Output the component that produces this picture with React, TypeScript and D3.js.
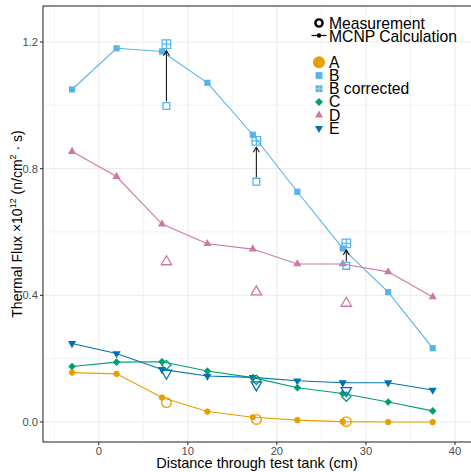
import React from "react";
import * as d3 from "d3";

const calcX = [-3, 2, 7.1, 12.2, 17.3, 22.3, 27.4, 32.5, 37.5];
const measX = [7.6, 17.7, 27.8];

const calcA = [0.156, 0.152, 0.077, 0.033, 0.015, 0.006, 0.001, 0.0, 0.0];
const calcB = [1.05, 1.18, 1.17, 1.071, 0.907, 0.727, 0.548, 0.41, 0.233];
const calcC = [0.175, 0.189, 0.19, 0.161, 0.14, 0.108, 0.09, 0.063, 0.035];
const calcD = [0.854, 0.775, 0.625, 0.563, 0.546, 0.499, 0.499, 0.474, 0.395];
const calcE = [0.248, 0.216, 0.166, 0.145, 0.141, 0.13, 0.124, 0.124, 0.101];

const measA = [0.061, 0.008, 0.001];
const measB = [0.998, 0.759, 0.493];
const corrB = [1.193, 0.888, 0.564];
const measC = [0.18, 0.133, 0.08];
const measD = [0.506, 0.411, 0.375];
const measE = [0.154, 0.117, 0.099];

const seriesNames = ["A", "B", "B corrected", "C", "D", "E"];
const xTicks = [0, 10, 20, 30, 40];
const xMinor = [-5, 5, 15, 25, 35];
const yTicks = [0.0, 0.4, 0.8, 1.2];
const yMinor = [0.2, 0.6, 1.0];

const COL = { A: "#E69F00", B: "#56B4E9", C: "#009E73", D: "#CC79A7", E: "#0072B2" };
const FONT = "'Liberation Sans', Arial, Helvetica, sans-serif";

type Shape = "circle" | "square" | "diamond" | "up" | "down" | "sqplus";

function shapePath(shape: Shape, cx: number, cy: number, s: number): string {
  const p = d3.path();
  if (shape === "circle") {
    p.moveTo(cx + s, cy);
    p.arc(cx, cy, s, 0, Math.PI * 2);
  } else if (shape === "square" || shape === "sqplus") {
    p.rect(cx - s, cy - s, 2 * s, 2 * s);
    if (shape === "sqplus") {
      p.moveTo(cx - s, cy);
      p.lineTo(cx + s, cy);
      p.moveTo(cx, cy - s);
      p.lineTo(cx, cy + s);
    }
  } else if (shape === "diamond") {
    p.moveTo(cx, cy - s);
    p.lineTo(cx + s, cy);
    p.lineTo(cx, cy + s);
    p.lineTo(cx - s, cy);
    p.closePath();
  } else if (shape === "up" || shape === "down") {
    const h = s * Math.sqrt(3);
    const sg = shape === "up" ? 1 : -1;
    p.moveTo(cx, cy - sg * (h * 2) / 3);
    p.lineTo(cx + s, cy + sg * h / 3);
    p.lineTo(cx - s, cy + sg * h / 3);
    p.closePath();
  }
  return p.toString();
}

export default function App() {
  const W = 471, H = 472;
  const left = 43, top = 6, bottom = 442, right = 471;
  const x = d3.scaleLinear().domain([-6.26, 41.8]).range([left, right]);
  const y = d3.scaleLinear().domain([-0.0632, 1.3136]).range([bottom, top]);

  const line = d3.line<number>().x((_, i) => x(calcX[i])).y((v) => y(v));

  const calcSeries: { key: keyof typeof COL; vals: number[]; shape: Shape; size: number }[] = [
    { key: "A", vals: calcA, shape: "circle", size: 3.1 },
    { key: "B", vals: calcB, shape: "square", size: 3.1 },
    { key: "C", vals: calcC, shape: "diamond", size: 3.8 },
    { key: "D", vals: calcD, shape: "up", size: 4.1 },
    { key: "E", vals: calcE, shape: "down", size: 4.1 },
  ];
  const measSeries: { key: keyof typeof COL; vals: number[]; shape: Shape; size: number }[] = [
    { key: "A", vals: measA, shape: "circle", size: 4.8 },
    { key: "B", vals: measB, shape: "square", size: 3.4 },
    { key: "C", vals: measC, shape: "diamond", size: 4.6 },
    { key: "D", vals: measD, shape: "up", size: 5.2 },
    { key: "E", vals: measE, shape: "down", size: 5.2 },
  ];

  const legendItems: { label: string; color: string; shape: Shape; size: number }[] = [
    { label: seriesNames[0], color: COL.A, shape: "circle", size: 6 },
    { label: seriesNames[1], color: COL.B, shape: "square", size: 3.4 },
    { label: seriesNames[2], color: COL.B, shape: "sqplus", size: 3.4 },
    { label: seriesNames[3], color: COL.C, shape: "diamond", size: 4 },
    { label: seriesNames[4], color: COL.D, shape: "up", size: 4 },
    { label: seriesNames[5], color: COL.E, shape: "down", size: 4 },
  ];

  return (
    <svg width={W} height={H} style={{ position: "absolute", left: 0, top: 0, background: "#fff" }} fontFamily={FONT}>
      <rect x={0} y={0} width={W} height={H} fill="#fff" />
      {/* grid */}
      {yMinor.map((v) => (
        <line key={"ym" + v} x1={left} x2={right} y1={y(v)} y2={y(v)} stroke="#ebebeb" strokeWidth={0.6} />
      ))}
      {xMinor.map((v) => (
        <line key={"xm" + v} x1={x(v)} x2={x(v)} y1={top} y2={bottom} stroke="#ebebeb" strokeWidth={0.6} />
      ))}
      {yTicks.map((v) => (
        <line key={"yg" + v} x1={left} x2={right} y1={y(v)} y2={y(v)} stroke="#ebebeb" strokeWidth={1.1} />
      ))}
      {xTicks.map((v) => (
        <line key={"xg" + v} x1={x(v)} x2={x(v)} y1={top} y2={bottom} stroke="#ebebeb" strokeWidth={1.1} />
      ))}

      {/* calc lines */}
      {calcSeries.map((s) => (
        <path key={"l" + s.key} d={line(s.vals) || ""} fill="none" stroke={COL[s.key]} strokeWidth={1.1} />
      ))}
      {/* calc points */}
      {calcSeries.map((s) =>
        s.vals.map((v, i) => (
          <path key={"p" + s.key + i} d={shapePath(s.shape, x(calcX[i]), y(v), s.size)} fill={COL[s.key]} stroke="none" />
        ))
      )}
      {/* measurement points */}
      {measSeries.map((s) =>
        s.vals.map((v, i) => (
          <path key={"m" + s.key + i} d={shapePath(s.shape, x(measX[i]), y(v), s.size)} fill="none" stroke={COL[s.key]} strokeWidth={1.3} />
        ))
      )}
      {/* corrected B */}
      {corrB.map((v, i) => (
        <path key={"c" + i} d={shapePath("sqplus", x(measX[i]), y(v), 4.3)} fill="none" stroke={COL.B} strokeWidth={1.2} />
      ))}
      {/* arrows */}
      {corrB.map((v, i) => {
        const ax = x(measX[i]);
        const y0 = y(measB[i]) - 4.5;
        const y1 = y(v) + 6.5;
        return (
          <g key={"a" + i} stroke="#1a1a1a" strokeWidth={1.1} fill="none">
            <line x1={ax} x2={ax} y1={y0} y2={y1} />
            <path d={`M${ax - 3},${y1 + 5} L${ax},${y1} L${ax + 3},${y1 + 5}`} />
          </g>
        );
      })}

      {/* panel border */}
      <rect x={left} y={top} width={right - left + 5} height={bottom - top} fill="none" stroke="#333" strokeWidth={1.1} />

      {/* y axis ticks */}
      {yTicks.map((v) => (
        <g key={"yt" + v}>
          <line x1={left - 3} x2={left} y1={y(v)} y2={y(v)} stroke="#333" strokeWidth={1.1} />
          <text x={left - 5} y={y(v) + 4} textAnchor="end" fontSize={11.2} fill="#4d4d4d">
            {d3.format(".1f")(v)}
          </text>
        </g>
      ))}
      {/* x axis ticks */}
      {xTicks.map((v) => (
        <g key={"xt" + v}>
          <line x1={x(v)} x2={x(v)} y1={bottom} y2={bottom + 3} stroke="#333" strokeWidth={1.1} />
          <text x={x(v)} y={bottom + 12.5} textAnchor="middle" fontSize={11.2} fill="#4d4d4d">
            {v}
          </text>
        </g>
      ))}

      {/* axis titles */}
      <text x={257} y={468} textAnchor="middle" fontSize={14.5} fill="#000">
        Distance through test tank (cm)
      </text>
      <text transform={`translate(22,${(top + bottom) / 2}) rotate(-90)`} textAnchor="middle" fontSize={14} fill="#000">
        Thermal Flux ×10<tspan dy={-6} fontSize={9}>12</tspan>
        <tspan dy={6}> (n</tspan>
        <tspan>/</tspan>
        <tspan>cm</tspan>
        <tspan dy={-6} fontSize={9}>2</tspan>
        <tspan dy={6}> · s)</tspan>
      </text>

      {/* legend */}
      <g>
        <circle cx={319} cy={23} r={3.6} fill="none" stroke="#000" strokeWidth={2.4} />
        <text x={329} y={28.5} fontSize={15.7} fill="#000">Measurement</text>
        <line x1={311.5} x2={326.5} y1={35.5} y2={35.5} stroke="#000" strokeWidth={1.2} />
        <circle cx={319} cy={35.5} r={2.2} fill="#000" />
        <text x={329} y={41.5} fontSize={15.7} fill="#000">MCNP Calculation</text>
        {legendItems.map((it, i) => {
          const cy = 62.3 + i * 13.2;
          return (
            <g key={"lg" + i}>
              {it.shape === "sqplus" ? (
                <g>
                  <rect x={319 - it.size} y={cy - it.size} width={2 * it.size} height={2 * it.size} fill={it.color} />
                  <path d={`M${319 - it.size},${cy}H${319 + it.size}M319,${cy - it.size}V${cy + it.size}`} stroke="#fff" strokeWidth={0.8} strokeDasharray="1,1" />
                </g>
              ) : (
                <path d={shapePath(it.shape, 319, cy, it.size)} fill={it.color} />
              )}
              <text x={329} y={cy + 5.5} fontSize={15.7} fill="#000">{it.label}</text>
            </g>
          );
        })}
      </g>
    </svg>
  );
}
